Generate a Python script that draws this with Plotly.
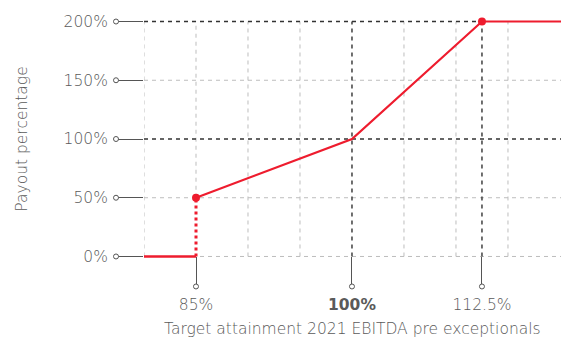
import plotly.graph_objects as go

# Payout curve: target attainment (%) -> payout (%)
attain = [80, 85, 85, 100, 112.5, 120.1]
payout = [0, 0, 50, 100, 200, 200]

threshold_x, threshold_y = 85, 50
cap_x, cap_y = 112.5, 200

x_ticks = [85, 100, 112.5]
x_ticklabels = ["85%", "<b>100%</b>", "112.5%"]
y_ticks = [0, 50, 100, 150, 200]
y_ticklabels = ["0%", "50%", "100%", "150%", "200%"]

x_title = "Target attainment 2021 EBITDA pre exceptionals"
y_title = "Payout percentage"

grid_x = [80, 90, 95, 105, 110, 115]
grid_y = [0, 50, 150]

RED = "#ee1c2e"
LIGHT = "#bdbdbd"
DARK = "#333333"
TEXT = "#5a5a5a"
TICK = "#555555"
FONT = "DejaVu Sans"

X0, X1 = 80, 120.1
Y0, Y1 = -3, 203

W, H = 561, 338
ML, MR, MT, MB = 144, 0, 18, 78
plot_h = H - MT - MB
plot_w = W - ML - MR

fig = go.Figure()

shapes = []


def hline(y, x_from, x_to, color, width):
    shapes.append(dict(type="line", xref="x", yref="y", x0=x_from, x1=x_to, y0=y, y1=y,
                       line=dict(color=color, width=width, dash="4px,4px"), layer="below"))


def vline(x, y_from, y_to, color, width):
    shapes.append(dict(type="line", xref="x", yref="y", x0=x, x1=x, y0=y_from, y1=y_to,
                       line=dict(color=color, width=width, dash="4px,4px"), layer="below"))


def tick_circle(px, py):
    # small open circle at the outer end of a tick, placed in paper coordinates
    shapes.append(dict(type="circle", xref="paper", yref="paper",
                       xsizemode="pixel", ysizemode="pixel", xanchor=px, yanchor=py,
                       x0=-2.5, x1=2.5, y0=-2.5, y1=2.5,
                       line=dict(color=TICK, width=1), fillcolor="white"))


# light grid
for gx in grid_x:
    vline(gx, 0, 200, LIGHT, 1)
vline(85, 50, 200, LIGHT, 1)
for gy in grid_y:
    hline(gy, 80, X1, LIGHT, 1)
# reference lines
hline(100, 80, X1, DARK, 1.4)
hline(200, 80, cap_x, DARK, 1.4)
vline(100, 0, 200, DARK, 1.4)
vline(cap_x, 0, 200, DARK, 1.4)

# payout curve (solid parts)
fig.add_trace(go.Scatter(x=attain[:2], y=payout[:2], mode="lines",
                         line=dict(color=RED, width=2.5), hoverinfo="skip"))
fig.add_trace(go.Scatter(x=attain[2:], y=payout[2:], mode="lines",
                         line=dict(color=RED, width=2.2), hoverinfo="skip"))
# jump at threshold
fig.add_trace(go.Scatter(x=attain[1:3], y=payout[1:3], mode="lines",
                         line=dict(color=RED, width=3, dash="3px,3px"), hoverinfo="skip"))
fig.add_trace(go.Scatter(x=[threshold_x, cap_x], y=[threshold_y, cap_y], mode="markers",
                         marker=dict(color=RED, size=8), cliponaxis=False, hoverinfo="skip"))

y_tick_len = 28
x_tick_len = 30
x_axis_pos = (0 - Y0) / (Y1 - Y0)

for yv in y_ticks:
    tick_circle(-y_tick_len / plot_w, (yv - Y0) / (Y1 - Y0))
for xv in x_ticks:
    tick_circle((xv - X0) / (X1 - X0), x_axis_pos - x_tick_len / plot_h)

# x-axis title placed as an annotation so it can sit low in the margin
fig.add_annotation(text=x_title, xref="paper", yref="paper", x=0.5, y=-(318 - (H - MB)) / plot_h,
                   xanchor="center", yanchor="top", showarrow=False,
                   font=dict(size=15.5, color=TEXT, weight=300, family=FONT))

fig.update_layout(
    width=W, height=H,
    margin=dict(l=ML, r=MR, t=MT, b=MB),
    paper_bgcolor="white", plot_bgcolor="white",
    showlegend=False,
    shapes=shapes,
    font=dict(family=FONT, color=TEXT, size=15, weight=300),
    xaxis=dict(range=[X0, X1], tickvals=x_ticks, ticktext=x_ticklabels,
               showgrid=False, zeroline=False, showline=False,
               ticks="outside", ticklen=x_tick_len, tickwidth=1, tickcolor=TICK,
               ticklabelstandoff=4,
               anchor="free", position=x_axis_pos,
               tickfont=dict(size=15.5, color=TEXT, weight=300)),
    yaxis=dict(range=[Y0, Y1], tickvals=y_ticks, ticktext=y_ticklabels,
               showgrid=False, zeroline=False, showline=False,
               ticks="outside", ticklen=y_tick_len, tickwidth=1, tickcolor=TICK,
               ticklabelstandoff=4,
               tickfont=dict(size=15.5, color=TEXT, weight=300),
               title=dict(text=y_title, font=dict(size=15.5, color=TEXT, weight=300),
                          standoff=32)),
)

fig.write_html("out.html")
